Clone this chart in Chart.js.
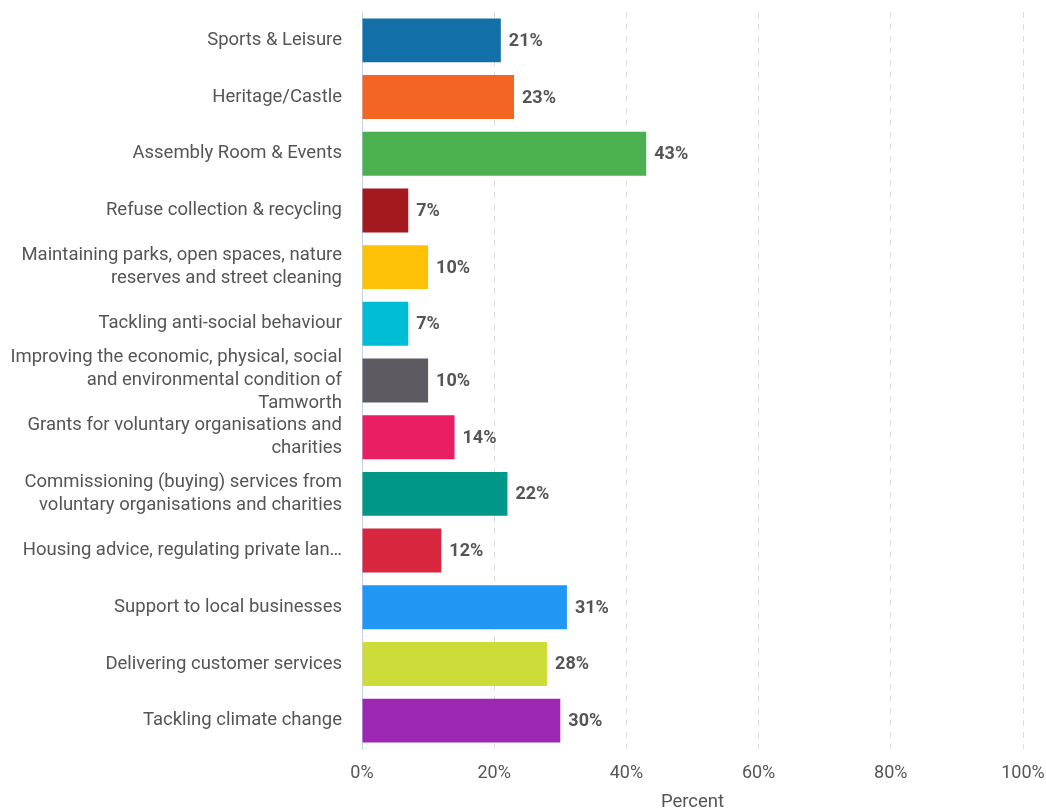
<!DOCTYPE html>
<html>
<head>
<meta charset="utf-8">
<script src="https://cdn.jsdelivr.net/npm/chart.js@4/dist/chart.umd.min.js"></script>
<style>
  html, body { margin: 0; padding: 0; background: #ffffff; }
  #wrap { position: relative; width: 1046px; height: 810px; }
</style>
</head>
<body>
<div id="wrap"><canvas id="chart" width="1046" height="810"></canvas></div>
<script>
// Service categories (multi-line labels as arrays)
const categories = [
  "Sports & Leisure",
  "Heritage/Castle",
  "Assembly Room & Events",
  "Refuse collection & recycling",
  ["Maintaining parks, open spaces, nature", "reserves and street cleaning"],
  "Tackling anti-social behaviour",
  ["Improving the economic, physical, social", "and environmental condition of", "Tamworth"],
  ["Grants for voluntary organisations and", "charities"],
  ["Commissioning (buying) services from", "voluntary organisations and charities"],
  "Housing advice, regulating private lan\u2026",
  "Support to local businesses",
  "Delivering customer services",
  "Tackling climate change"
];

// Share of respondents, percent
const percentValues = [21, 23, 43, 7, 10, 7, 10, 14, 22, 12, 31, 28, 30];

// One colour per bar
const barColors = [
  "#126fa8", "#f26522", "#4caf50", "#a3191e", "#ffc107", "#00bcd4", "#5e5a61",
  "#e91e63", "#009688", "#d7263d", "#2196f3", "#cddc39", "#9c27b0"
];

// X-axis ticks
const tickValues = [0, 20, 40, 60, 80, 100];

const textColor = "#555555";

// Writes "NN%" to the right of each bar
const valueLabels = {
  id: "valueLabels",
  afterDatasetsDraw(chart) {
    const ctx = chart.ctx;
    const meta = chart.getDatasetMeta(0);
    ctx.save();
    ctx.font = "bold 18px Roboto";
    ctx.fillStyle = textColor;
    ctx.textAlign = "left";
    ctx.textBaseline = "middle";
    meta.data.forEach((bar, i) => {
      ctx.fillText(percentValues[i] + "%", bar.x + 8, bar.y + 1);
    });
    ctx.restore();
  }
};

new Chart(document.getElementById("chart"), {
  type: "bar",
  data: {
    labels: categories,
    datasets: [{
      data: percentValues,
      backgroundColor: barColors,
      borderWidth: 0,
      barPercentage: 0.775,
      categoryPercentage: 1.0
    }]
  },
  options: {
    indexAxis: "y",
    responsive: false,
    animation: false,
    devicePixelRatio: 1,
    layout: { padding: { top: 12, right: 23, bottom: 0, left: 0 } },
    plugins: {
      legend: { display: false },
      tooltip: { enabled: false }
    },
    scales: {
      x: {
        min: 0,
        max: 100,
        afterBuildTicks(scale) {
          scale.ticks = tickValues.map(v => ({ value: v }));
        },
        afterFit(scale) {
          scale.paddingLeft = 0;
          scale.paddingRight = 0;
          scale.height = 61;
        },
        ticks: {
          color: textColor,
          font: { family: "Roboto", size: 18 },
          padding: 14,
          callback: v => v + "%"
        },
        grid: {
          color: ctx => ctx.tick && ctx.tick.value === 0 ? "rgba(0,0,0,0)" : "#dddddd",
          lineWidth: 1,
          drawTicks: false
        },
        border: { display: false, dash: [6, 6] },
        title: {
          display: true,
          text: "Percent",
          color: textColor,
          font: { family: "Roboto", size: 18.5 },
          padding: { top: 0, bottom: -3 }
        }
      },
      y: {
        afterFit(scale) {
          scale.width = 362;
          scale.paddingTop = 0;
          scale.paddingBottom = 0;
        },
        ticks: {
          color: textColor,
          font: { family: "Roboto", size: 18.5, lineHeight: 1.243 },
          padding: 20,
          autoSkip: false
        },
        grid: { display: false, drawTicks: false },
        border: { display: true, color: "#c5d3ea", width: 1 }
      }
    }
  },
  plugins: [valueLabels]
});
</script>
</body>
</html>
